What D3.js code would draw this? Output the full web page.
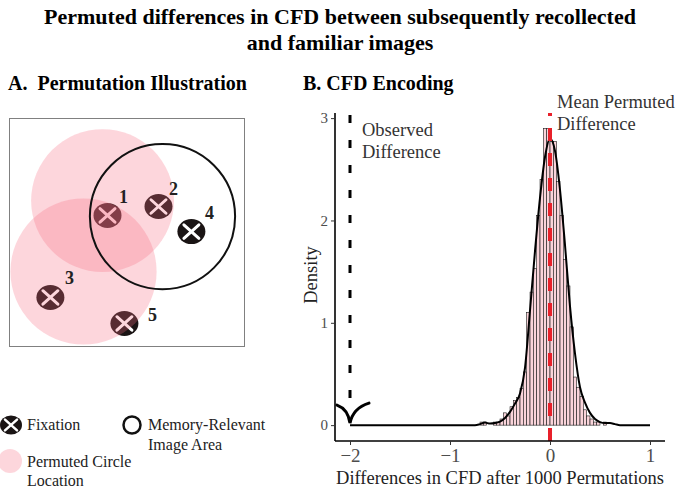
<!DOCTYPE html>
<html>
<head>
<meta charset="utf-8">
<script src="https://cdn.jsdelivr.net/npm/d3@7"></script>
<style>
  html, body { margin: 0; padding: 0; background: #fff; }
  svg { display: block; font-family: "Liberation Serif", "Times New Roman", serif; }
</style>
</head>
<body>
<svg id="chart" width="680" height="490"></svg>
<script>
// ---------- Data ----------
const titleLines = ["Permuted differences in CFD between subsequently recollected", "and familiar images"];
const panelTitles = ["A.  Permutation Illustration", "B. CFD Encoding"];

// Panel A illustration (units 0-100 inside the image box)
const permCircles = [
  { cx: 39.6, cy: 36.0, r: 30.4 },
  { cx: 31.5, cy: 67.1, r: 31.1 }
];
const memoryCircle = { cx: 65.1, cy: 43.0, r: 30.9 };
const fixationIds = ["1", "2", "4", "3", "5"];
const fixationX = [41.7, 63.4, 77.4, 17.4, 48.9];
const fixationY = [42.5, 38.6, 49.6, 78.5, 89.9];
const labelDX = [16, 15, 18, 19, 28];
const labelDY = [-18, -18, -19, -19, -8];

// Panel B: histogram of permuted differences
const binWidth = 1 / 30;
const binCenters = [-0.683, -0.650, -0.617, -0.583, -0.550, -0.517, -0.483, -0.450, -0.417, -0.383,
  -0.350, -0.317, -0.283, -0.250, -0.217, -0.183, -0.150, -0.117, -0.083, -0.050,
  -0.017, 0.017, 0.050, 0.083, 0.117, 0.150, 0.183, 0.217, 0.250, 0.283,
  0.317, 0.350, 0.383, 0.417, 0.450, 0.483, 0.517, 0.550, 0.583];
const binDensity = [0.03, 0.03, 0.0, 0.0, 0.03, 0.03, 0.06, 0.12, 0.09, 0.18,
  0.24, 0.27, 0.36, 0.52, 1.10, 1.30, 1.53, 2.05, 2.40, 2.90,
  2.90, 2.77, 2.77, 2.38, 2.05, 1.62, 1.36, 0.96, 0.47, 0.37,
  0.28, 0.15, 0.09, 0.06, 0.03, 0.03, 0.0, 0.03, 0.0];

// Kernel density curve
const densX = [-2, -0.75, -0.70, -0.65, -0.60, -0.55, -0.50, -0.45, -0.40, -0.35, -0.30, -0.25, -0.20, -0.15, -0.10, -0.05,
  0.00, 0.05, 0.10, 0.15, 0.20, 0.25, 0.30, 0.35, 0.40, 0.45, 0.50, 0.55, 0.60, 0.65, 0.70, 0.75, 1];
const densY = [0, 0, 0.01, 0.025, 0.015, 0.02, 0.035, 0.07, 0.13, 0.21, 0.31, 0.56, 1.12, 1.70, 2.22, 2.62,
  2.80, 2.68, 2.30, 1.76, 1.16, 0.70, 0.37, 0.22, 0.12, 0.06, 0.03, 0.02, 0.02, 0.01, 0.0, 0, 0];

const observedDiff = -2;
const meanPermDiff = 0;
const xTicks = [-2, -1, 0, 1];
const yTicks = [0, 1, 2, 3];
const xTitle = "Differences in CFD after 1000 Permutations";
const yTitle = "Density";
const observedLabel = ["Observed", "Difference"];
const meanLabel = ["Mean Permuted", "Difference"];
const legendLabels = { fixation: "Fixation", memory: ["Memory-Relevant", "Image Area"], perm: ["Permuted Circle", "Location"] };

// ---------- Drawing ----------
const svg = d3.select("#chart");
const pinkFill = "#f76a80", pinkAlpha = 0.28;

// Title
svg.append("g").selectAll("text").data(titleLines).join("text")
  .attr("x", 340).attr("y", (d, i) => 24 + i * 26)
  .attr("text-anchor", "middle").attr("font-weight", "bold").attr("font-size", 22)
  .text(d => d);

// Panel titles
svg.append("text").attr("x", 8).attr("y", 90).attr("font-weight", "bold").attr("font-size", 20)
  .attr("xml:space", "preserve").style("white-space", "pre").text(panelTitles[0]);
svg.append("text").attr("x", 303).attr("y", 90).attr("font-weight", "bold").attr("font-size", 20).text(panelTitles[1]);

// ---- Panel A ----
const ax = d3.scaleLinear().domain([0, 100]).range([9.5, 244.5]);
const ay = d3.scaleLinear().domain([0, 100]).range([118.5, 346.5]);
const ar = d3.scaleLinear().domain([0, 100]).range([0, 235]);

const defs = svg.append("defs");
defs.append("clipPath").attr("id", "boxclip").append("rect")
  .attr("x", ax(0)).attr("y", ay(0)).attr("width", ax(100) - ax(0)).attr("height", ay(100) - ay(0));

const gA = svg.append("g");
gA.append("rect").attr("x", ax(0)).attr("y", ay(0)).attr("width", ax(100) - ax(0)).attr("height", ay(100) - ay(0))
  .attr("fill", "#fff").attr("stroke", "#808080").attr("stroke-width", 1);

const fixData = fixationIds.map((id, i) => ({ id, x: fixationX[i], y: fixationY[i], dx: labelDX[i], dy: labelDY[i] }));

function drawFixation(g, cx, cy, rx, ry, arm, sw) {
  g.append("ellipse").attr("cx", cx).attr("cy", cy).attr("rx", rx).attr("ry", ry).attr("fill", "#1a1414");
  g.append("line").attr("x1", cx - arm).attr("y1", cy - arm * 0.9).attr("x2", cx + arm).attr("y2", cy + arm * 0.9)
    .attr("stroke", "#fff").attr("stroke-width", sw).attr("stroke-linecap", "round");
  g.append("line").attr("x1", cx - arm).attr("y1", cy + arm * 0.9).attr("x2", cx + arm).attr("y2", cy - arm * 0.9)
    .attr("stroke", "#fff").attr("stroke-width", sw).attr("stroke-linecap", "round");
}
const gFix = gA.append("g");
fixData.forEach(d => drawFixation(gFix, ax(d.x), ay(d.y), 14, 12.5, 7.5, 3));

gA.append("g").attr("clip-path", "url(#boxclip)").selectAll("circle").data(permCircles).join("circle")
  .attr("cx", d => ax(d.cx)).attr("cy", d => ay(d.cy)).attr("r", d => ar(d.r))
  .attr("fill", pinkFill).attr("fill-opacity", pinkAlpha);

gA.append("circle").attr("cx", ax(memoryCircle.cx)).attr("cy", ay(memoryCircle.cy)).attr("r", ar(memoryCircle.r))
  .attr("fill", "none").attr("stroke", "#111").attr("stroke-width", 2);

gA.append("g").selectAll("text").data(fixData).join("text")
  .attr("x", d => ax(d.x) + d.dx).attr("y", d => ay(d.y) + d.dy + 6)
  .attr("text-anchor", "middle").attr("font-weight", "bold").attr("font-size", 18).attr("fill", "#222")
  .text(d => d.id);

// Legend
const gL = svg.append("g").attr("font-size", 16).attr("fill", "#222");
drawFixation(gL, 11, 425, 11, 9.5, 6, 2.5);
gL.append("text").attr("x", 27).attr("y", 430).text(legendLabels.fixation);
gL.append("circle").attr("cx", 132).attr("cy", 425).attr("r", 8.5).attr("fill", "none").attr("stroke", "#111").attr("stroke-width", 2.5);
gL.selectAll("text.mem").data(legendLabels.memory).join("text").attr("class", "mem")
  .attr("x", 148).attr("y", (d, i) => 430 + i * 20).text(d => d);
gL.append("circle").attr("cx", 10).attr("cy", 461).attr("r", 12).attr("fill", pinkFill).attr("fill-opacity", pinkAlpha);
gL.selectAll("text.perm").data(legendLabels.perm).join("text").attr("class", "perm")
  .attr("x", 27).attr("y", (d, i) => 467 + i * 19).text(d => d);

// ---- Panel B ----
const x = d3.scaleLinear().domain([-2.15, 1.15]).range([335, 665]);
const y = d3.scaleLinear().domain([-0.155, 3.05]).range([441, 113]);
const gB = svg.append("g");

// histogram
const bins = binCenters.map((c, i) => ({ x0: c - binWidth / 2, x1: c + binWidth / 2, h: binDensity[i] }));
gB.append("g").selectAll("rect").data(bins.filter(b => b.h > 0)).join("rect")
  .attr("x", d => x(d.x0)).attr("width", d => x(d.x1) - x(d.x0))
  .attr("y", d => y(d.h)).attr("height", d => y(0) - y(d.h))
  .attr("fill", "#fad4da").attr("stroke", "#1a1a1a").attr("stroke-width", 0.6);

// density
const dens = densX.map((v, i) => [v, densY[i]]);
gB.append("path").datum(dens)
  .attr("d", d3.line().x(d => x(d[0])).y(d => y(d[1])).curve(d3.curveMonotoneX))
  .attr("fill", "none").attr("stroke", "#000").attr("stroke-width", 2);

// observed difference (dashed arrow)
gB.append("line").attr("x1", x(observedDiff)).attr("x2", x(observedDiff))
  .attr("y1", y(3.03)).attr("y2", y(0.12))
  .attr("stroke", "#000").attr("stroke-width", 3).attr("stroke-dasharray", "8,17");
const tipX = x(observedDiff), tipY = y(0.02);
gB.append("path")
  .attr("d", `M${tipX - 13},${tipY - 18} Q${tipX - 2},${tipY - 14} ${tipX},${tipY} Q${tipX + 3},${tipY - 15} ${tipX + 19},${tipY - 20}`)
  .attr("fill", "none").attr("stroke", "#000").attr("stroke-width", 3).attr("stroke-linecap", "round");

// mean permuted difference (red dashed)
gB.append("line").attr("x1", x(meanPermDiff)).attr("x2", x(meanPermDiff))
  .attr("y1", y(-0.155)).attr("y2", y(3.05))
  .attr("stroke", "#e8202a").attr("stroke-width", 4).attr("stroke-dasharray", "13,12");

// axes
const xAxis = gB.append("g").attr("transform", `translate(0,${y(-0.155)})`)
  .call(d3.axisBottom(x).tickValues(xTicks).tickSize(4).tickPadding(4).tickFormat(d3.format("")));
xAxis.select(".domain").attr("stroke", "#000").attr("stroke-width", 1.6).attr("d", `M${x(-2.15)},0H${x(1.15)}`);
xAxis.selectAll(".tick line").attr("stroke", "#333");
xAxis.selectAll(".tick text").attr("font-size", 19).attr("fill", "#4d4d4d").attr("font-family", "Liberation Serif")
  .text(d => d < 0 ? "\u2212" + Math.abs(d) : d);

const yAxis = gB.append("g").attr("transform", `translate(${x(-2.15)},0)`)
  .call(d3.axisLeft(y).tickValues(yTicks).tickSize(4).tickPadding(3).tickFormat(d3.format("d")));
yAxis.select(".domain").attr("stroke", "#000").attr("stroke-width", 1.6).attr("d", `M0,${y(-0.155)}V${y(3.05)}`);
yAxis.selectAll(".tick line").attr("stroke", "#333");
yAxis.selectAll(".tick text").attr("font-size", 15).attr("fill", "#4d4d4d").attr("font-family", "Liberation Serif");

gB.append("text").attr("x", 500).attr("y", 484).attr("text-anchor", "middle").attr("font-size", 18.5).attr("fill", "#222").text(xTitle);
gB.append("text").attr("transform", "translate(317,275) rotate(-90)").attr("text-anchor", "middle")
  .attr("font-size", 18.5).attr("fill", "#222").text(yTitle);

// annotations
gB.selectAll("text.obs").data(observedLabel).join("text").attr("class", "obs")
  .attr("x", 362).attr("y", (d, i) => 136 + i * 22).attr("font-size", 18.5).attr("fill", "#333").text(d => d);
gB.selectAll("text.mean").data(meanLabel).join("text").attr("class", "mean")
  .attr("x", 557).attr("y", (d, i) => 108 + i * 22).attr("font-size", 18.5).attr("fill", "#333").text(d => d);
</script>
</body>
</html>
